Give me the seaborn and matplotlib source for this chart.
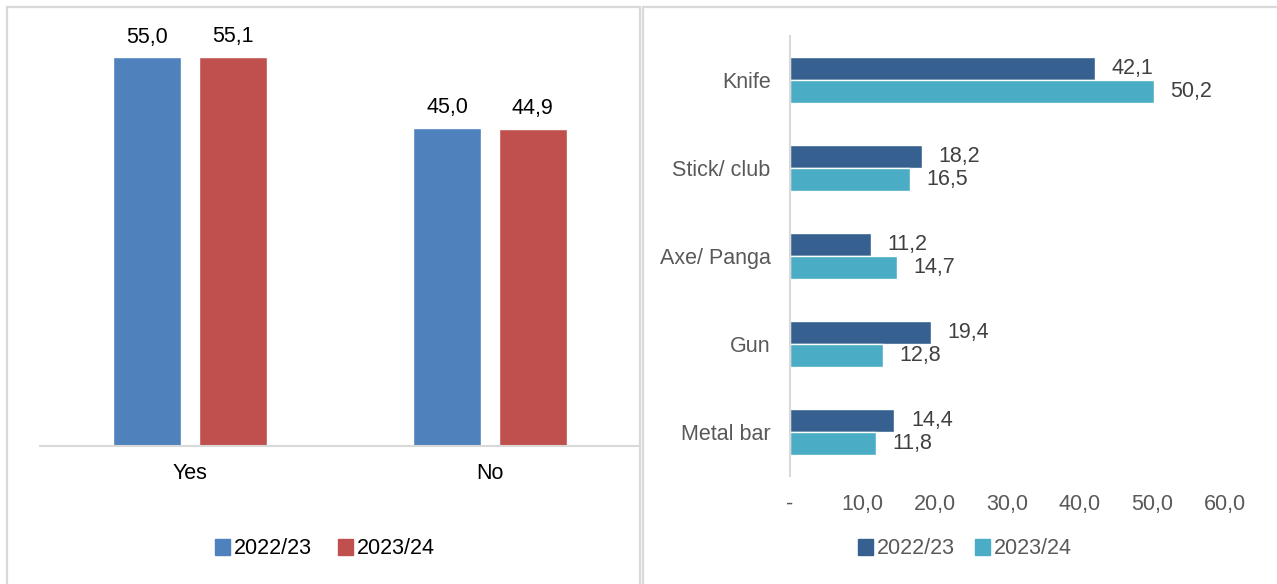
import matplotlib
matplotlib.use("Agg")
import matplotlib.pyplot as plt
from matplotlib.patches import Rectangle, Patch
import seaborn as sns
import pandas as pd

# Left panel: yes/no shares
answers = ["Yes", "No"]
answer_2223 = [55.0, 45.0]
answer_2324 = [55.1, 44.9]

# Right panel: weapon used
weapons = ["Knife", "Stick/ club", "Axe/ Panga", "Gun", "Metal bar"]
weapon_2223 = [42.1, 18.2, 11.2, 19.4, 14.4]
weapon_2324 = [50.2, 16.5, 14.7, 12.8, 11.8]

years = ["2022/23", "2023/24"]
weapon_ticks = [0, 10, 20, 30, 40, 50, 60]

sns.set_theme(style="white")
plt.rcParams["font.family"] = ["Liberation Sans", "DejaVu Sans"]

W, H = 1277, 584
FS = 15.5
fig = plt.figure(figsize=(W / 100, H / 100), dpi=100)


def fmt(v):
    return f"{v:.1f}".replace(".", ",")


def box(x0, y0, x1, y1):
    return [x0 / W, 1 - y1 / H, (x1 - x0) / W, (y1 - y0) / H]


# panel frames
for x0, x1 in [(7, 640), (643, 1290)]:
    fig.patches.append(Rectangle((x0 / W, -0.05), (x1 - x0) / W, 1.05 - 7 / H,
                                 transform=fig.transFigure, fill=False,
                                 edgecolor="#D9D9D9", linewidth=1.6, zorder=0))

# ---- left chart ----
left_df = pd.DataFrame({
    "answer": answers * 2,
    "value": answer_2223 + answer_2324,
    "year": [years[0]] * 2 + [years[1]] * 2,
})
left_colors = ["#4F81BD", "#C0504D"]
ax1 = fig.add_axes(box(40, 22, 640, 446))
sns.barplot(data=left_df, x="answer", y="value", hue="year", order=answers,
            hue_order=years, palette=left_colors, width=0.567, gap=0.2,
            legend=False, ax=ax1, saturation=1)
ax1.set_ylim(0, 60)
ax1.set_xlim(-0.5, 1.5)
ax1.set_xlabel("")
ax1.set_ylabel("")
ax1.set_yticks([])
for s in ["top", "left", "right"]:
    ax1.spines[s].set_visible(False)
ax1.spines["bottom"].set_color("#D9D9D9")
ax1.spines["bottom"].set_linewidth(1.5)
ax1.tick_params(axis="x", length=0, pad=12, labelsize=FS, labelcolor="#000000")
for cont in ax1.containers:
    ax1.bar_label(cont, labels=[fmt(v) for v in cont.datavalues], padding=7,
                  fontsize=FS, color="#000000")

fig.legend(handles=[Patch(color=c, label=y) for c, y in zip(left_colors, years)],
           loc="center", bbox_to_anchor=(325 / W, 1 - 549 / H), ncol=2,
           frameon=False, fontsize=FS, handlelength=0.7, handleheight=0.7,
           handletextpad=0.2, columnspacing=1.2, labelcolor="#000000")

# ---- right chart ----
right_df = pd.DataFrame({
    "weapon": weapons * 2,
    "value": weapon_2223 + weapon_2324,
    "year": [years[0]] * 5 + [years[1]] * 5,
})
right_colors = ["#35608F", "#4BACC6"]
ax2 = fig.add_axes(box(790, 36, 1225, 476))
sns.barplot(data=right_df, x="value", y="weapon", hue="year", order=weapons,
            hue_order=years, palette=right_colors, width=0.523, orient="h",
            legend=False, ax=ax2, saturation=1)
ax2.set_xlim(0, 60)
ax2.set_ylim(4.5, -0.5)
ax2.set_xlabel("")
ax2.set_ylabel("")
ax2.set_xticks(weapon_ticks)
ax2.set_xticklabels(["-"] + [fmt(t) for t in weapon_ticks[1:]])
for s in ["top", "right", "bottom"]:
    ax2.spines[s].set_visible(False)
ax2.spines["left"].set_color("#D9D9D9")
ax2.spines["left"].set_linewidth(1.5)
ax2.tick_params(axis="x", length=0, pad=13, labelsize=FS, labelcolor="#595959")
ax2.tick_params(axis="y", length=0, pad=14, labelsize=FS, labelcolor="#595959")
for cont in ax2.containers:
    ax2.bar_label(cont, labels=[fmt(v) for v in cont.datavalues], padding=12,
                  fontsize=FS, color="#404040")

fig.legend(handles=[Patch(color=c, label=y) for c, y in zip(right_colors, years)],
           loc="center", bbox_to_anchor=(965 / W, 1 - 549 / H), ncol=2,
           frameon=False, fontsize=FS, handlelength=0.7, handleheight=0.7,
           handletextpad=0.2, columnspacing=0.9, labelcolor="#595959")

fig.savefig("out.png", dpi=100, facecolor="white")
